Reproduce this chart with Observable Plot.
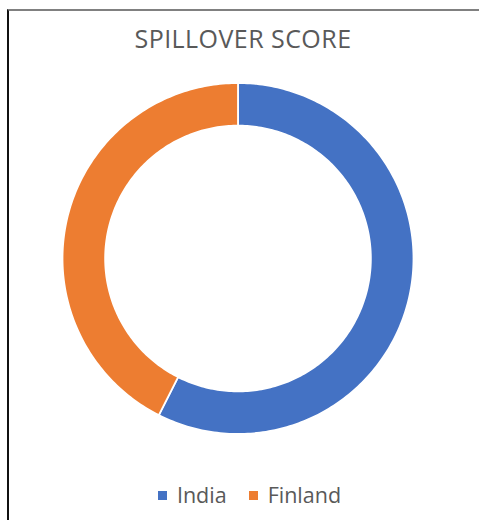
<!DOCTYPE html>
<html>
<head>
<meta charset="utf-8">
<script src="https://cdn.jsdelivr.net/npm/d3@7"></script>
<script src="https://cdn.jsdelivr.net/npm/@observablehq/plot@0.6"></script>
<style>
  html, body { margin: 0; padding: 0; background: #fff; }
  #wrap { position: relative; width: 479px; height: 520px; overflow: hidden; font-family: "Open Sans", sans-serif; }
  #frame { position: absolute; left: 7px; top: 9px; right: -2px; bottom: -2px; border-top: 2px solid #808080; border-left: 2px solid #111; }
  #title { position: absolute; left: 7px; right: 0; top: 21px; text-align: center; font-size: 25px; color: #595959; line-height: 34px; letter-spacing: 0.45px; }
  #chart { position: absolute; left: 0; top: 62px; }
  #legend { position: absolute; left: 0; right: 0; top: 480px; display: flex; justify-content: center; align-items: center; font-size: 21.5px; color: #595959; line-height: 30px; padding-left: 20px; }
  .item { display: flex; align-items: center; margin: 0 11px; }
  .sw { width: 9px; height: 9px; margin-right: 10px; display: inline-block; }
</style>
</head>
<body>
<div id="wrap">
  <div id="frame"></div>
  <div id="title"></div>
  <div id="chart"></div>
  <div id="legend"></div>
</div>
<script>
const titleText = "SPILLOVER SCORE";
const categories = ["India", "Finland"];
const values = [5.4, 4.0];
const colors = ["#4472C4", "#ED7D31"];

document.getElementById("title").textContent = titleText;

const data = categories.map((name, i) => ({name, value: values[i], color: colors[i]}));
const arcs = d3.pie().sort(null).value(d => d.value).startAngle(0).endAngle(2 * Math.PI)(data);

const rOuter = 1.0, rInner = 0.757;
function slicePolygon(a) {
  const pts = [];
  const n = Math.max(8, Math.ceil((a.endAngle - a.startAngle) / (Math.PI / 180)));
  for (let k = 0; k <= n; k++) {
    const t = a.startAngle + (a.endAngle - a.startAngle) * k / n;
    pts.push({name: a.data.name, x: rOuter * Math.sin(t), y: rOuter * Math.cos(t)});
  }
  for (let k = n; k >= 0; k--) {
    const t = a.startAngle + (a.endAngle - a.startAngle) * k / n;
    pts.push({name: a.data.name, x: rInner * Math.sin(t), y: rInner * Math.cos(t)});
  }
  pts.push(pts[0]);
  return pts;
}

const cx = 237.5, cy = 196, R = 175.5;
const chart = Plot.plot({
  width: 479,
  height: 400,
  margin: 0,
  x: {domain: [-1, 1], range: [cx - R, cx + R], axis: null},
  y: {domain: [-1, 1], range: [cy + R, cy - R], axis: null},
  marks: arcs.map(a => Plot.line(slicePolygon(a), {
    x: "x", y: "y", fill: a.data.color, stroke: "white", strokeWidth: 1.8, curve: "linear-closed"
  }))
});
document.getElementById("chart").appendChild(chart);

const legend = document.getElementById("legend");
data.forEach(d => {
  const item = document.createElement("span");
  item.className = "item";
  const sw = document.createElement("span");
  sw.className = "sw";
  sw.style.background = d.color;
  item.appendChild(sw);
  item.appendChild(document.createTextNode(d.name));
  legend.appendChild(item);
});
</script>
</body>
</html>
